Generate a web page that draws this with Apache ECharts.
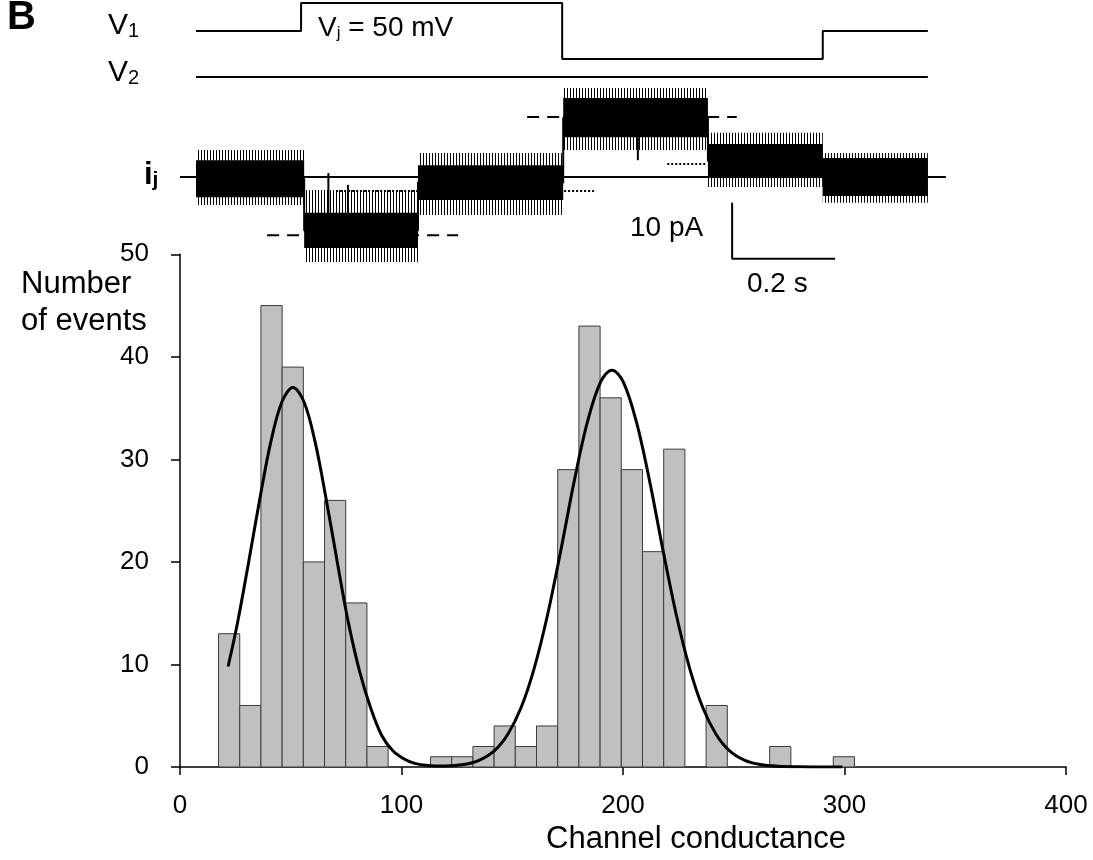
<!DOCTYPE html>
<html><head><meta charset="utf-8">
<script src="https://cdn.jsdelivr.net/npm/echarts@6/dist/echarts.min.js"></script>
<style>html,body{margin:0;padding:0;background:#fff}#c{width:1093px;height:860px}</style>
</head><body><div id="c"></div>
<script>
// ---------- Histogram (channel conductance) ----------
const binStart = 17.4;          // left edge of first bin
const binWidth = 9.57;          // bin width
const counts = [13, 6, 45, 39, 20, 26, 16, 2, 0, 0, 1, 1, 2, 4, 2, 4, 29, 43, 36, 29, 21, 31, 0, 6, 0, 0, 2, 0, 0, 1];
const fitX = [21.7, 26, 31, 36, 41, 46, 51, 56, 61, 66, 71, 76, 81, 86, 91, 96, 101, 106, 112, 120, 128, 135, 142, 148, 154, 160, 166, 172, 178, 184, 190, 195, 200, 206, 212, 218, 224, 230, 236, 242, 248, 255, 262, 270, 280, 290, 299];
const fitY = [9.8, 14.1, 20.0, 26.1, 31.7, 35.6, 37.0, 35.6, 31.7, 26.1, 20.0, 14.1, 9.4, 5.8, 3.1, 1.6, 0.8, 0.35, 0.15, 0.1, 0.24, 0.65, 1.6, 3.2, 5.8, 9.7, 14.9, 21.2, 27.9, 33.7, 37.6, 38.7, 37.6, 33.7, 27.9, 21.2, 14.9, 9.7, 5.8, 3.2, 1.6, 0.65, 0.24, 0.07, 0.02, 0, 0];
const xTickLabels = ['0', '100', '200', '300', '400'];
const yTickLabels = ['0', '10', '20', '30', '40', '50'];

// ---------- Junctional current trace (time s, current pA) ----------
const segStart  = [0.000, 0.210, 0.431, 0.713, 0.994, 1.217];
const segEnd    = [0.210, 0.431, 0.713, 0.994, 1.217, 1.421];
const segLevel  = [-0.3, -9.55, -1.0, 10.6, 2.85, 0.0];
const coreHigh  = [3.0, -6.4, 2.1, 14.1, 5.9, 3.4];
const coreLow   = [-3.6, -12.7, -4.1, 7.1, -0.2, -3.4];
const noiseHigh = [4.8, -2.3, 4.3, 15.9, 7.9, 4.3];
const noiseLow  = [-5.0, -15.2, -6.8, 4.8, -1.8, -4.6];
const spikeT    = [0.257, 0.295, 0.858];
const spikeFrom = [-6.4, -6.4, 7.1];
const spikeTo   = [0.7, -1.4, 3.0];
const baselineT = [-0.031, 1.456];
const dashLevel = [-10.4, 10.7];
const dashFrom  = [0.138, 0.643];
const dashTo    = [0.509, 1.050];
const dotLevel  = [-2.5, 2.3];
const dotFrom   = [0.272, 0.915];
const dotTo     = [0.775, 0.992];
// voltage commands (mV)
const v1T  = [0, 0.204, 0.204, 0.711, 0.711, 1.217, 1.217, 1.421];
const v1mV = [0, 0, 50, 50, -50, -50, 0, 0];
const v2T  = [0, 1.421];
const v2mV = [0, 0];
// scale bar: 0.2 s, 10 pA
const barT = [1.041, 1.041, 1.241];
const barI = [-4.6, -14.6, -14.6];

const FONT = 'Liberation Sans, Arial, Helvetica, sans-serif';

const bins = counts.map((c, i) => [binStart + i * binWidth, binStart + (i + 1) * binWidth, c]).filter(d => d[2] > 0);
const fit = fitX.map((x, i) => [x, fitY[i]]);

const bands = segStart.map((s, i) => [s, segEnd[i], noiseLow[i], noiseHigh[i], coreLow[i], coreHigh[i]]);
const meanLine = [];
segStart.forEach((s, i) => { meanLine.push([s, segLevel[i]]); meanLine.push([segEnd[i], segLevel[i]]); });
const spikes = spikeT.map((t, i) => [t, spikeFrom[i], spikeTo[i]]);

function hline(levels, from, to) {
  const out = [];
  levels.forEach((l, i) => { out.push([from[i], l]); out.push([to[i], l]); out.push([null, null]); });
  return out;
}

// fine vertical-stripe fill suggesting the noise fringe of the recording
const stripe = document.createElement('canvas');
stripe.width = 3; stripe.height = 4;
(function () { const g = stripe.getContext('2d'); g.fillStyle = '#000'; g.fillRect(0, 0, 1, 4); })();

const chart = echarts.init(document.getElementById('c'), null, {renderer: 'canvas'});
const option = {
  animation: false,
  backgroundColor: '#fff',
  grid: [
    {left: 180, top: 2, width: 766, height: 280},
    {left: 180, top: 254.3, width: 886, height: 512.7}
  ],
  xAxis: [
    {gridIndex: 0, type: 'value', min: -0.0311, max: 1.4563, show: false},
    {gridIndex: 1, type: 'value', min: 0, max: 400, interval: 100,
     axisLine: {lineStyle: {color: '#000', width: 1.5}},
     axisTick: {length: 8, lineStyle: {color: '#000', width: 1.5}},
     splitLine: {show: false},
     axisLabel: {color: '#000', fontSize: 26, fontFamily: FONT, margin: 26,
                 formatter: v => xTickLabels[Math.round(v / 100)]},
     name: 'Channel conductance', nameLocation: 'middle', nameGap: 50,
     nameTextStyle: {color: '#000', fontSize: 31, fontFamily: FONT, padding: [0, 0, 0, 146]}}
  ],
  yAxis: [
    {gridIndex: 0, type: 'value', min: -18.75, max: 31.25, show: false},
    {gridIndex: 0, type: 'value', min: -448, max: 52, show: false},
    {gridIndex: 0, type: 'value', min: -366, max: 134, show: false},
    {gridIndex: 1, type: 'value', min: 0, max: 50, interval: 10,
     axisLine: {show: true, lineStyle: {color: '#000', width: 1.5}},
     axisTick: {show: true, length: 9, lineStyle: {color: '#000', width: 1.5}},
     splitLine: {show: false},
     axisLabel: {color: '#000', fontSize: 26, fontFamily: FONT, margin: 31,
                 formatter: v => yTickLabels[Math.round(v / 10)]}}
  ],
  graphic: [
    {type: 'text', left: 7, top: -2, style: {text: 'B', fontSize: 40, fontWeight: 'bold', fontFamily: FONT, fill: '#000'}},
    {type: 'text', left: 108, top: 11, style: {text: '{v|V}{s|1}', fill: '#000',
      rich: {v: {fontSize: 30, fontFamily: FONT, lineHeight: 32, verticalAlign: 'bottom'},
             s: {fontSize: 20, fontFamily: FONT, lineHeight: 25, verticalAlign: 'bottom'}}}},
    {type: 'text', left: 108, top: 58, style: {text: '{v|V}{s|2}', fill: '#000',
      rich: {v: {fontSize: 30, fontFamily: FONT, lineHeight: 32, verticalAlign: 'bottom'},
             s: {fontSize: 20, fontFamily: FONT, lineHeight: 25, verticalAlign: 'bottom'}}}},
    {type: 'text', left: 318, top: 14, style: {text: '{v|V}{s|j}{v| = 50 mV}', fill: '#000',
      rich: {v: {fontSize: 28, fontFamily: FONT, lineHeight: 30, verticalAlign: 'bottom'},
             s: {fontSize: 17, fontFamily: FONT, lineHeight: 21, verticalAlign: 'bottom'}}}},
    {type: 'text', left: 144, top: 160, style: {text: '{v|i}{s|j}', fill: '#000',
      rich: {v: {fontSize: 31, fontWeight: 'bold', fontFamily: FONT, lineHeight: 32, verticalAlign: 'bottom'},
             s: {fontSize: 21, fontWeight: 'bold', fontFamily: FONT, lineHeight: 20, verticalAlign: 'bottom'}}}},
    {type: 'text', left: 630, top: 214, style: {text: '10 pA', fontSize: 28, fontFamily: FONT, fill: '#000'}},
    {type: 'text', left: 747, top: 270, style: {text: '0.2 s', fontSize: 28, fontFamily: FONT, fill: '#000'}},
    {type: 'text', left: 21, top: 266, style: {text: 'Number\nof events', fontSize: 31, lineHeight: 37, fontFamily: FONT, fill: '#000'}}
  ],
  series: [
    // histogram bars
    {type: 'custom', xAxisIndex: 1, yAxisIndex: 3, data: bins, encode: {x: [0, 1], y: 2},
     renderItem: (params, api) => {
       const a = api.coord([api.value(0), api.value(2)]);
       const b = api.coord([api.value(1), 0]);
       return {type: 'rect', shape: {x: a[0], y: a[1], width: b[0] - a[0], height: b[1] - a[1]},
               style: {fill: '#c0c0c0', stroke: '#3c3c3c', lineWidth: 1}};
     }, z: 2},
    // gaussian fit
    {type: 'line', xAxisIndex: 1, yAxisIndex: 3, data: fit, smooth: 0.35,
     showSymbol: false, lineStyle: {color: '#000', width: 3}, z: 3},
    // voltage traces
    {type: 'line', xAxisIndex: 0, yAxisIndex: 1, data: v1T.map((t, i) => [t, v1mV[i]]),
     showSymbol: false, lineStyle: {color: '#000', width: 2}},
    {type: 'line', xAxisIndex: 0, yAxisIndex: 2, data: v2T.map((t, i) => [t, v2mV[i]]),
     showSymbol: false, lineStyle: {color: '#000', width: 2}},
    // zero-current baseline
    {type: 'line', xAxisIndex: 0, yAxisIndex: 0, data: baselineT.map(t => [t, 0]),
     showSymbol: false, lineStyle: {color: '#000', width: 2}, z: 1},
    // dashed (fully open) levels
    {type: 'line', xAxisIndex: 0, yAxisIndex: 0, data: hline(dashLevel, dashFrom, dashTo), connectNulls: false,
     showSymbol: false, lineStyle: {color: '#000', width: 2, type: [12, 8]}, z: 1},
    // dotted (residual) levels
    {type: 'line', xAxisIndex: 0, yAxisIndex: 0, data: hline(dotLevel, dotFrom, dotTo), connectNulls: false,
     showSymbol: false, lineStyle: {color: '#000', width: 2, type: [2, 2]}, z: 1},
    // current trace noise bands
    {type: 'custom', xAxisIndex: 0, yAxisIndex: 0, data: bands, encode: {x: [0, 1], y: [2, 3]},
     renderItem: (params, api) => {
       const o1 = api.coord([api.value(0), api.value(3)]);
       const o2 = api.coord([api.value(1), api.value(2)]);
       const c1 = api.coord([api.value(0), api.value(5)]);
       const c2 = api.coord([api.value(1), api.value(4)]);
       return {type: 'group', children: [
         {type: 'rect', shape: {x: o1[0], y: o1[1], width: o2[0] - o1[0], height: o2[1] - o1[1]},
          style: {fill: {image: stripe, repeat: 'repeat'}}},
         {type: 'rect', shape: {x: c1[0], y: c1[1], width: c2[0] - c1[0], height: c2[1] - c1[1]},
          style: {fill: '#000'}}
       ]};
     }, z: 4},
    // step transitions of the trace
    {type: 'line', xAxisIndex: 0, yAxisIndex: 0, data: meanLine, showSymbol: false,
     lineStyle: {color: '#000', width: 2}, z: 5},
    // isolated spikes
    {type: 'custom', xAxisIndex: 0, yAxisIndex: 0, data: spikes, encode: {x: 0, y: [1, 2]},
     renderItem: (params, api) => {
       const a = api.coord([api.value(0), api.value(1)]);
       const b = api.coord([api.value(0), api.value(2)]);
       return {type: 'line', shape: {x1: a[0], y1: a[1], x2: b[0], y2: b[1]}, style: {stroke: '#000', lineWidth: 2}};
     }, z: 5},
    // scale bar
    {type: 'line', xAxisIndex: 0, yAxisIndex: 0, data: barT.map((t, i) => [t, barI[i]]),
     showSymbol: false, lineStyle: {color: '#000', width: 2}}
  ]
};
chart.setOption(option);
</script>
</body></html>
